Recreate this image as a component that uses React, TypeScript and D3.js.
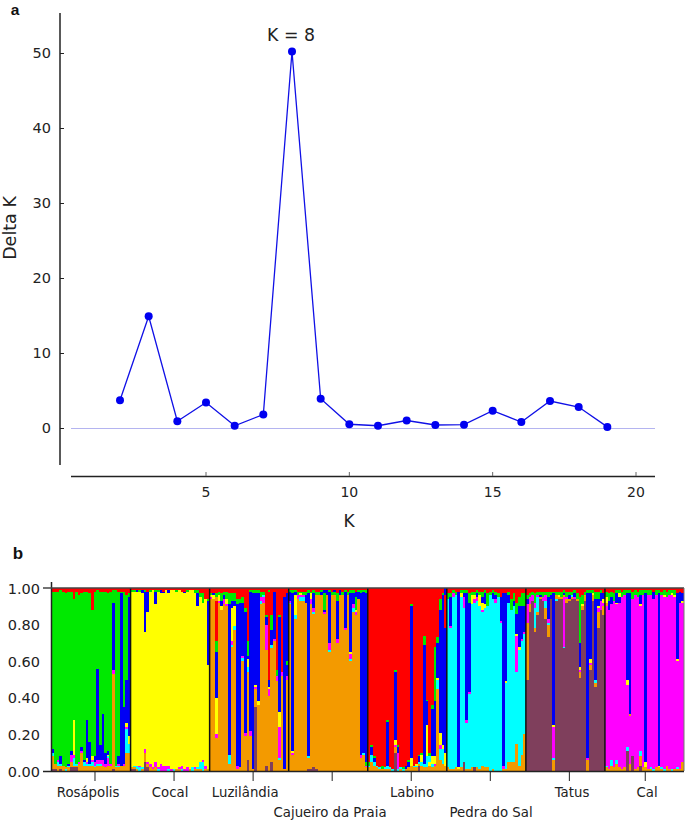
import React from "react";
import * as d3 from "d3";

const kValues = [2,3,4,5,6,7,8,9,10,11,12,13,14,15,16,17,18,19];
const deltaK = [3.7,14.9,0.9,3.4,0.3,1.8,50.2,3.9,0.5,0.3,1.0,0.4,0.45,2.3,0.8,3.6,2.8,0.15];
const deltaTicks = [0,10,20,30,40,50];
const kTicks = [5,10,15,20];
const shareTicks = [0,0.2,0.4,0.6,0.8,1];

// each bar: colour letter + upper bound in percent, bottom to top; the last segment runs to 100
const rosapolis = ["p1o8c10b12g98r","p1o4g98r","o3c5m6g98r","p1o3c4b8g99r","o3g98r","c1o2g97r","o2c3b4g98r","p2o5m9b11g98r","p2o3c7m9y28g94r","p2o3c4g98r","o4m5g96r","o10m11b13g97r","o3c5b6g98r","o3c4m5y7b28g98r","o3c4b16g97r","o3c5m6y8g88r","o2c3m5b8g98r","o3c4m6b56g99r","o3c4m6b14g98r","o3m6b31g98r","o2m4b10g98r","o3m7c8y9b11g97r","o3m4g98r","p1o53m55b92g99r","o2c3g99r","o2c3m4b8g98r","o3b97g98r","o3m4b35g98r","o10c23m24y26b50g96r","o10c15y19b95g97r"];
const cocal = ["p1o2y98g99r","p1o2c3y98g99r","o1c3y98b99r","c2m3y98g99r","o1c2y97b99r","p5o10m12y76b98g99r","p2o4m5y87b98r","o2m4y98g99r","o1m2y99r","o2m5y91b98g99r","c1m2y98g99r","m4y97b99r","m3y97b98r","m3y99r","c1m3y97b99r","m1y99r","c1y99r","o1y98g99r","o1m2y99r","c1m3y98r","m1y97b98r","m2y98g99r","o1y99r","c2y99r","o1m2y97g99r","o1c2y90b97g99r","o1c5y95g97r","c5m6y92g97r","o1m3y94r","o1y58b93g94r"];
const luzilandia = ["o94m95y96g97r","o94y96b97r","o18m20y40b65g71r93o95g97r","o92m93y96g98r","o88y90b93g97r","o91m94b96g98r","o90m91y94g98r","o4c9b91g97r","o68c69m71y89b93g97r","o77c79y90b93g97r","o1m3b91g94r","o2b92g94r","o60c62m63b92g95r","o19m21b87g89r","p6o54c57y61b63g71r","o19m22b98g99r","o1b97g99r","p35o45m46y47b97g99r","o36y38b97g99r","o91c93m95g98r","o92m95c96g98r","p3o66m80b84g85r","o41m45y46b50r98g99r","p5o67c69b77g85r","o71m72b98r","o49m52g55r","o6c7m24y32b84g85r","o52m54r","o1b95r","o50m52b58g60b97r"];
const cajueiro = ["o91c92m93b98g99r","o9m10y11b97g99r","o83c85y96b98g99r","o94m96g98r","o93c95m96y97g98r","o93c95m96g98r","o92b96g98r","p1o7c8b97g99r","p1o91m94y97g98r","p2o86c87m89b97g99r","p1o96g98r","o96g98r","o96b98g99r","o86m87b88g97b99r","o96b99r","o65c66m70b98g99r","o96g98r","o96g98b99r","o70m72b93g97r","o96b99r","o96g98r","o77m78b98g99r","o96g98r","o60c61m64y65b97g99r","o87c89m91b97g99r","o85m87y88g95b98r","o94b98g99r","o7m9b97g99r","o9c10b98g99r","o2m3g5b97g99r"];
const labino = ["o2c3g5r","o5c9b13g14r","o3c5b7g8r","o2c3r","o1c2r","o1g3r","o1c2r","o1c3b27g28r","o1c2r","c1r","p10o13m14y17b54g55r","c1m10b13g14r","o1c2r","c1g2r","o1b3r","o2b5g6r","o3y7b90g91r","o2c3r","o2c3y4r","p3o4c5b8g9r","o3c5y9g10r","o2c4b69g74r","o2c8y25b38g39r","o3y5c8g10r","o2c4y8b34g36r","o3m4y8b38g68r","o45c50y51b70g73r","o6c12m14y21b88g94r","o4c12y14b96g97r","o3y10b78r96b"];
const pedra = ["o2c94g97r","o1c78m79b95g97r","o1c95m97g99r","o2c96g98r","o1y2b98r","o2c95y97g99r","p5c89m95b97g99r","o1c26m28b97g99r","o1c42m43b92g97r","o2c91y96g98r","p2c92m94y96g98r","o2c93m95b97g99r","o1c90y96g98r","o3c87m88y92b95g98r","o2c89y91b97g99r","o2c90g97r","c96g98r","o1c94b97g99r","c92m94b96g98r","c95g97r","c81m82b95r","o1m3b97r","o1c48y49b97r","o5c92b96g98r","o5c88g94r","o5c90b93g97r","o15c54m74y75b86g92r","o3c66y68b90g95r","o9c71m72b90g97r","o20c75m76b90g97r"];
const tatus = ["p50o81m91b94g96r","p87o91m95g97r","p93m96g98r","p76o78c89m92g97r","p85o87c95m96g98r","p94o95b96g98r","p93m95g98r","p83o89c93m96g98r","p73o80c81m83b95g98r","p94b96g98r","o6c7m24y25b97g98r","p93c94o96g98r","p94o95y96g98r","p94o95g98r","p67c68m95o96b97g99r","p92o94m95g98r","p93o94b96g98r","p94o95c96g98r","p94m95b97g99r","p93o94g97r","p51o54m55y57b70g95r","p88o90y91g96r","p93o96g98r","o6m7b97g99r","p55o58m59y61b97g99r","p93o96y97g99r","p46o48c50b94g98r","p78o87m89y90b94g98r","p88m93b97g99r","p85o90m92y94b97r"];
const cal = ["o2c3m90o92y95g98r","o1m88b93g97r","o3c6m91b95g98r","o2m93g97r","o4c6m91y92b97g99r","o2m92b95y97g99r","o1m95g98r","o2m96g99r","p11c13m47y50b97g99r","o4m30o31b97g99r","p8m94g98r","o1m96g99r","o2m95g98r","p3o8c11m90y91b96g99r","o2m96g99r","o2y5b97g99r","o1m96g99r","o1c2m96g99r","c1m94b98r","o2m96g99r","o2y3b97g99r","o1c2m96g98r","c1m95y96g99r","o3m95g98r","o1m96g99r","c1m96y97g99r","o1m95y96g99r","o1c2m60y61b97r","o1m92b98r","o5m92y93b97r"];
const populations = [rosapolis, cocal, luzilandia, cajueiro, labino, pedra, tatus, cal];

const siteLabels = ["Rosápolis","Cocal","Luzilândia","Cajueiro da Praia","Labino","Pedra do Sal","Tatus","Cal"];
const siteLabelBars = [13.9,45,73.5,105.7,136.8,166.8,197.5,226];
const siteLabelRows = [0,0,0,1,0,1,0,0];
const siteTickBars = [16.5,46.5,76.5,106.5,136.5,166.5,196.5,225.3];

const clusterColours: Record<string, string> = {
  g: "#00e900", y: "#ffff00", b: "#0000f5", r: "#ff0000",
  o: "#f39a00", c: "#00ffff", m: "#ff00ff", p: "#7f3f5c",
};

const parseBar = (spec: string) => {
  const parts = [...spec.matchAll(/([a-z])(\d+)?/g)];
  let low = 0;
  return parts.map((m) => {
    const high = m[2] ? +m[2] / 100 : 1;
    const seg = { key: m[1], low, high };
    low = high;
    return seg;
  });
};

const FONT = "'DejaVu Sans', sans-serif";
const INK = "#222";

export default function App() {
  const x = d3.scaleLinear().domain([5, 20]).range([206, 636]);
  const y = d3.scaleLinear().domain([0, 50]).range([428, 53]);
  const line = d3.line<number>().x((_, i) => x(kValues[i])).y((d) => y(d));

  const allBars = populations.flat();
  const bx = d3.scaleLinear().domain([0, allBars.length]).range([51.5, 684]);
  const by = d3.scaleLinear().domain([0, 1]).range([771, 588]);

  return (
    <svg width={685} height={820} style={{ position: "absolute", left: 0, top: 0, background: "#fff" }} fontFamily={FONT} fill={INK}>
      <text x={15} y={14.5} fontSize={15.5} fontWeight="bold" fontFamily="'Liberation Sans', sans-serif" textAnchor="middle" fill="#111">a</text>
      <text x={18} y={559} fontSize={17} fontWeight="bold" fontFamily="'Liberation Sans', sans-serif" textAnchor="middle" fill="#111">b</text>

      {/* panel a */}
      <line x1={71} x2={655} y1={y(0) + 0.5} y2={y(0) + 0.5} stroke="#b4b4f0" strokeWidth={1} />
      <line x1={60} x2={60} y1={13} y2={465} stroke={INK} strokeWidth={1.5} />
      <line x1={71} x2={655} y1={476.5} y2={476.5} stroke={INK} strokeWidth={1.5} />
      {deltaTicks.map((t) => (
        <g key={t}>
          <line x1={60} x2={64} y1={y(t) + 0.5} y2={y(t) + 0.5} stroke={INK} />
          <text x={51} y={y(t) + 5} fontSize={14.5} textAnchor="end">{t}</text>
        </g>
      ))}
      {kTicks.map((t) => (
        <g key={t}>
          <line x1={x(t)} x2={x(t)} y1={472} y2={476} stroke="#666" />
          <text x={x(t)} y={497} fontSize={14} textAnchor="middle">{t}</text>
        </g>
      ))}
      <text x={349} y={527} fontSize={17} textAnchor="middle">K</text>
      <text transform="translate(16,228) rotate(-90)" fontSize={17.5} textAnchor="middle">Delta K</text>
      <path d={line(deltaK) ?? ""} fill="none" stroke="#1010e6" strokeWidth={1.3} />
      {deltaK.map((d, i) => (
        <circle key={i} cx={x(kValues[i])} cy={y(d)} r={4} fill="#0000f0" />
      ))}
      <text x={291} y={41} fontSize={17.3} textAnchor="middle">K = 8</text>

      {/* panel b */}
      {allBars.map((spec, i) =>
        parseBar(spec).map((s) => (
          <rect key={i + s.key + s.low} x={bx(i)} width={bx(i + 1) - bx(i) + (i < allBars.length - 1 ? 0.4 : 0)} y={by(s.high)} height={by(s.low) - by(s.high)} fill={clusterColours[s.key]} shapeRendering="crispEdges" />
        ))
      )}
      {populations.map((_, p) => p > 0 && (
        <line key={p} x1={bx(p * 30)} x2={bx(p * 30)} y1={by(1)} y2={by(0)} stroke="#111" strokeWidth={1.5} />
      ))}
      <line x1={bx(0)} x2={bx(0)} y1={582} y2={772} stroke={INK} strokeWidth={1.5} />
      <line x1={43} x2={bx(240)} y1={by(1)} y2={by(1)} stroke="#444" strokeWidth={1.5} />
      <line x1={bx(240)} x2={bx(240)} y1={by(1)} y2={by(0)} stroke="#777" strokeWidth={1} />
      <line x1={43} x2={bx(240)} y1={by(0) + 0.5} y2={by(0) + 0.5} stroke={INK} strokeWidth={1.5} />
      {shareTicks.map((t) => (
        <text key={t} x={40} y={by(t) + 5.5} fontSize={14.5} textAnchor="end">{t.toFixed(2)}</text>
      ))}
      {siteTickBars.map((b) => (
        <line key={b} x1={bx(b)} x2={bx(b)} y1={772} y2={781} stroke={INK} strokeWidth={1} />
      ))}
      {siteLabels.map((s, i) => (
        <text key={s} x={bx(siteLabelBars[i])} y={siteLabelRows[i] ? 817 : 797} fontSize={13.3} textAnchor="middle">{s}</text>
      ))}
    </svg>
  );
}
